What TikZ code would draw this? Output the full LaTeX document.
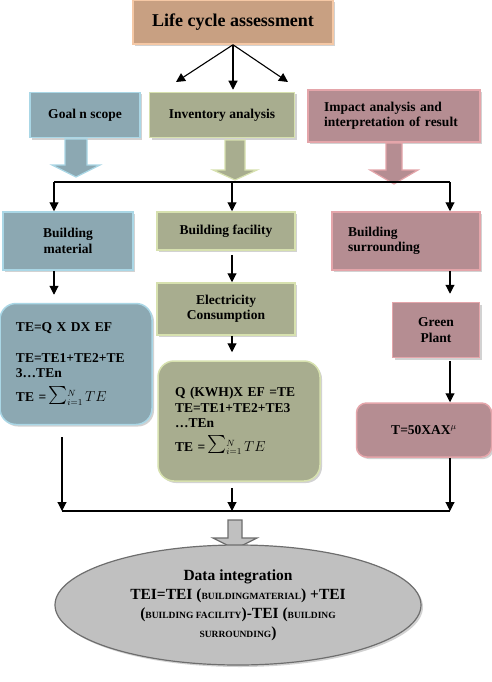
\documentclass[tikz,border=0pt]{standalone}
\usepackage{fontspec}
\setmainfont{Liberation Serif}
\usetikzlibrary{arrows.meta,shapes.geometric,shadows}

\definecolor{tanF}{RGB}{200,160,130}
\definecolor{tanL}{RGB}{245,200,165}
\definecolor{blueF}{RGB}{140,168,178}
\definecolor{blueL}{RGB}{170,215,230}
\definecolor{oliveF}{RGB}{168,173,143}
\definecolor{oliveL}{RGB}{215,225,175}
\definecolor{mauveF}{RGB}{181,141,146}
\definecolor{mauveL}{RGB}{228,165,170}
\definecolor{grayF}{RGB}{192,192,192}
\definecolor{grayL}{RGB}{110,110,110}

\newcommand{\sctext}[1]{{\fontsize{9.5}{11}\selectfont #1}}
\newcommand{\tesum}{TE =\,\scalebox{1.8}{$\sum$}$_{i=1}^{N}$\,$TE$}

\tikzset{
	box/.style={draw=#1L, fill=#1F, line width=1.5pt, inner sep=0pt,
		font=\fontsize{13.5}{15.5}\selectfont\bfseries, align=center,
		drop shadow={shadow xshift=2pt, shadow yshift=-2pt, opacity=0.35}},
	arr/.style={-{Triangle[length=9pt,width=9pt]}, line width=1.1pt},
	bus/.style={line width=1.1pt}
}

\begin{document}
\begin{tikzpicture}[x=1pt, y=-1pt]
	\useasboundingbox[fill=white] (0, 0) rectangle (492, 682);

	% Kopf
	\node[box=tan, minimum width=200pt, minimum height=44pt,
		font=\fontsize{18}{21}\selectfont\bfseries] (lca) at (233, 22) {Life cycle assessment};

	% drei Schritte
	\node[box=blue, minimum width=110pt, minimum height=45pt] (goal) at (85, 115) {Goal n scope};
	\node[box=olive, minimum width=145pt, minimum height=45pt] (inv) at (222, 115) {Inventory analysis};
	\node[box=mauve, minimum width=172pt, minimum height=52pt, text width=140pt, align=left]
		(imp) at (394, 116) {Impact analysis and\\interpretation of result};

	% Blockpfeile
	\foreach \cx/\yt/\yh/\yp/\sw/\hw/\clr in {76/139/165/177/11/24/blue,
		235/140/170/180/10/22/olive, 394/143/170/184/8/24/mauve, 235/520/538/549/7/22/gray}
		\filldraw[fill=\clr F, draw=\clr L, line width=1.2pt]
			(\cx - \sw, \yt) -- (\cx + \sw, \yt) -- (\cx + \sw, \yh) -- (\cx + \hw, \yh)
			-- (\cx, \yp) -- (\cx - \hw, \yh) -- (\cx - \sw, \yh) -- cycle;

	% Pfeile vom Kopf
	\coordinate (tipL) at (176, 82);
	\coordinate (tipR) at (288, 82);
	\draw[arr] (lca.south) -- (tipL);
	\draw[arr] (lca.south) -- (tipR);
	\draw[arr, shorten >=2pt] (lca.south) -- (lca.south |- inv.north);

	% zweite Reihe
	\node[box=blue, minimum width=130pt, minimum height=58pt] (bmat) at (68, 241) {Building\\material};
	\node[box=olive, minimum width=138pt, minimum height=38pt] (bfac) at (226, 231) {Building facility};
	\node[box=mauve, minimum width=148pt, minimum height=58pt, text width=116pt, align=left]
		(bsur) at (406, 241) {Building\\surrounding};

	\coordinate (busL) at (54, 182);
	\coordinate (busM) at (232, 182);
	\coordinate (busR) at (450, 182);
	\draw[bus] (busL) -- (busR);
	\draw[arr] (busL) -- (busL |- bmat.north);
	\draw[arr] (busM) -- (busM |- bfac.north);
	\draw[arr] (busR) -- (busR |- bsur.north);

	% Formeln
	\node[box=blue, minimum width=152pt, minimum height=121pt, rounded corners=16pt,
		text width=120pt, align=left] (te) at (76, 364)
		{TE=Q X DX EF\\[15pt]TE=TE1+TE2+TE\\3…TEn\\[7pt]\tesum};
	\node[box=olive, minimum width=138pt, minimum height=52pt] (elec) at (226, 309) {Electricity\\Consumption};
	\node[box=olive, minimum width=162pt, minimum height=120pt, rounded corners=16pt,
		text width=128pt, align=left] (q) at (239, 421)
		{Q (KWH)X EF =TE\\TE=TE1+TE2+TE3\\…TEn\\[7pt]\tesum};
	\node[box=mauve, minimum width=87pt, minimum height=55pt] (green) at (436, 330) {Green\\Plant};
	\node[box=mauve, minimum width=135pt, minimum height=54pt, rounded corners=10pt]
		(tbox) at (424, 430) {T=50XAX$^{\mu}$};

	\draw[arr, shorten >=8pt] (busL |- bmat.south) -- (busL |- te.north);
	\draw[arr, shorten <=4pt] (busM |- bfac.south) -- (busM |- elec.north);
	\draw[arr, shorten >=8pt] (busR |- bsur.south) -- (busR |- green.north);
	\draw[arr, shorten >=8pt] (busM |- elec.south) -- (busM |- q.north);
	\draw[arr, shorten <=3pt] (busR |- green.south) -- (busR |- tbox.north);

	% unten zusammenfuehren
	\coordinate (botL) at (62, 511);
	\coordinate (botM) at (232, 511);
	\coordinate (botR) at (450, 511);
	\draw[arr, shorten <=12pt] (botL |- te.south) -- (botL);
	\draw[arr, shorten <=6pt] (botM |- q.south) -- (botM);
	\draw[arr] (botR |- tbox.south) -- (botR);
	\draw[bus] (botL) -- (botR);

	% Datenintegration
	\node[ellipse, draw=grayL, fill=grayF, line width=1.2pt, inner sep=0pt,
		minimum width=366pt, minimum height=120pt, align=center,
		font=\fontsize{15.5}{19}\selectfont\bfseries,
		drop shadow={shadow xshift=2pt, shadow yshift=-2pt, opacity=0.35}] (data) at (238, 605)
		{Data integration\\
		TEI=TEI (\sctext{BUILDINGMATERIAL}) +TEI\\
		(\sctext{BUILDING FACILITY})-TEI (\sctext{BUILDING}\\
		\sctext{SURROUNDING})};
\end{tikzpicture}
\end{document}
